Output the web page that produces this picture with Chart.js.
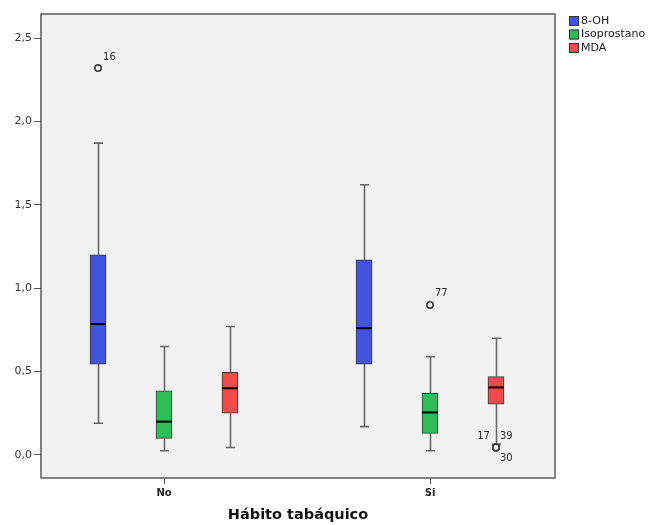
<!DOCTYPE html>
<html>
<head>
<meta charset="utf-8">
<title>Hábito tabáquico</title>
<script src="https://cdn.jsdelivr.net/npm/chart.js@4.4.1/dist/chart.umd.min.js"></script>
<style>
  html, body { margin: 0; padding: 0; background: #fff; }
  canvas { display: block; }
</style>
</head>
<body>
<canvas id="boxChart" width="649" height="525"></canvas>
<script>
var groups = ['No', 'Si'];
var seriesNames = ['8-OH', 'Isoprostano', 'MDA'];
var seriesColors = ['#4153df', '#30bd58', '#f24a4a'];

// one row per series, one value per group (No, Si)
var whiskerLow  = [[0.19, 0.17], [0.025, 0.025], [0.045, 0.065]];
var quartile1   = [[0.545, 0.545], [0.10, 0.13], [0.25, 0.305]];
var medians     = [[0.785, 0.76], [0.20, 0.255], [0.40, 0.405]];
var quartile3   = [[1.20, 1.17], [0.385, 0.37], [0.495, 0.47]];
var whiskerHigh = [[1.87, 1.62], [0.65, 0.59], [0.77, 0.70]];

// outliers: series, group, value, case number
var outlierSeries = [0, 1, 2, 2, 2];
var outlierGroups = [0, 1, 1, 1, 1];
var outlierValues = [2.32, 0.90, 0.045, 0.045, 0.045];
var outlierLabels = ['16', '77', '17', '39', '30'];

var yTicks = [0, 0.5, 1.0, 1.5, 2.0, 2.5];

(function () {

  var SPREAD = 0.248;      // distance between boxes inside a group, in x units
  var FONT = '"DejaVu Sans", sans-serif';
  var PLOT_BG = '#f2f2f2';

  function boxX(s, g) { return g + 1 + (s - 1) * SPREAD; }

  // where each case number sits relative to its circle
  var labelSpots = [
    { dx: 5, dy: -11, align: 'left' },
    { dx: 5, dy: -11, align: 'left' },
    { dx: -6, dy: -11, align: 'right' },
    { dx: 4, dy: -11, align: 'left' },
    { dx: 4, dy: 11, align: 'left' }
  ];

  var datasets = seriesNames.map(function (name, s) {
    return {
      type: 'bar',
      label: name,
      data: groups.map(function (gname, g) {
        return { x: boxX(s, g), y: [quartile1[s][g], quartile3[s][g]] };
      }),
      backgroundColor: seriesColors[s],
      borderColor: '#3a3a3a',
      borderWidth: 1,
      borderSkipped: false,
      barThickness: 16,
      grouped: false
    };
  });

  datasets.push({
    type: 'scatter',
    label: 'outliers',
    data: outlierValues.map(function (v, i) {
      return { x: boxX(outlierSeries[i], outlierGroups[i]), y: v };
    }),
    pointRadius: 3.2,
    pointBorderWidth: 1.6,
    pointBorderColor: '#3c3c3c',
    pointBackgroundColor: PLOT_BG
  });

  var plotFrame = {
    id: 'plotFrame',
    beforeDraw: function (chart) {
      var a = chart.chartArea, ctx = chart.ctx;
      ctx.save();
      ctx.fillStyle = PLOT_BG;
      ctx.fillRect(a.left, a.top, a.right - a.left, a.bottom - a.top);
      ctx.restore();
    },
    afterDraw: function (chart) {
      var a = chart.chartArea, ctx = chart.ctx, xs = chart.scales.x;
      ctx.save();
      ctx.strokeStyle = '#5a5a5a';
      ctx.lineWidth = 1.5;
      ctx.strokeRect(a.left, a.top, a.right - a.left, a.bottom - a.top);
      // category tick marks under the frame
      ctx.strokeStyle = '#555';
      ctx.lineWidth = 1;
      groups.forEach(function (g, i) {
        var px = Math.round(xs.getPixelForValue(i + 1)) + 0.5;
        ctx.beginPath();
        ctx.moveTo(px, a.bottom);
        ctx.lineTo(px, a.bottom + 6);
        ctx.stroke();
      });
      ctx.restore();
    }
  };

  var whiskers = {
    id: 'whiskers',
    beforeDatasetsDraw: function (chart) {
      var ctx = chart.ctx, y = chart.scales.y;
      ctx.save();
      ctx.strokeStyle = '#666';
      ctx.lineWidth = 1.6;
      seriesNames.forEach(function (name, s) {
        chart.getDatasetMeta(s).data.forEach(function (bar, g) {
          var x = Math.round(bar.x) + 0.5;
          var hi = y.getPixelForValue(whiskerHigh[s][g]);
          var lo = y.getPixelForValue(whiskerLow[s][g]);
          var q1 = y.getPixelForValue(quartile1[s][g]);
          var q3 = y.getPixelForValue(quartile3[s][g]);
          ctx.beginPath();
          ctx.moveTo(x, q3); ctx.lineTo(x, hi);
          ctx.moveTo(x, q1); ctx.lineTo(x, lo);
          ctx.moveTo(x - 4.5, hi); ctx.lineTo(x + 4.5, hi);
          ctx.moveTo(x - 4.5, lo); ctx.lineTo(x + 4.5, lo);
          ctx.stroke();
        });
      });
      ctx.restore();
    },
    afterDatasetsDraw: function (chart) {
      var ctx = chart.ctx, y = chart.scales.y;
      ctx.save();
      ctx.strokeStyle = '#000';
      ctx.lineWidth = 2;
      seriesNames.forEach(function (name, s) {
        chart.getDatasetMeta(s).data.forEach(function (bar, g) {
          var m = y.getPixelForValue(medians[s][g]);
          ctx.beginPath();
          ctx.moveTo(bar.x - bar.width / 2, m);
          ctx.lineTo(bar.x + bar.width / 2, m);
          ctx.stroke();
        });
      });

      // case numbers next to the outliers
      var pts = chart.getDatasetMeta(seriesNames.length).data;
      ctx.fillStyle = '#2b2b2b';
      ctx.font = '10px ' + FONT;
      ctx.textBaseline = 'middle';
      pts.forEach(function (pt, i) {
        var spot = labelSpots[i];
        ctx.textAlign = spot.align;
        ctx.fillText(outlierLabels[i], pt.x + spot.dx, pt.y + spot.dy);
      });
      ctx.restore();
    }
  };

  var sideLegend = {
    id: 'sideLegend',
    afterDraw: function (chart) {
      var ctx = chart.ctx, a = chart.chartArea;
      var x = a.right + 14, y = a.top + 7;
      ctx.save();
      ctx.font = '11px ' + FONT;
      ctx.textBaseline = 'middle';
      ctx.textAlign = 'left';
      seriesNames.forEach(function (name, s) {
        var cy = y + s * 13.5;
        ctx.fillStyle = seriesColors[s];
        ctx.fillRect(x, cy - 5, 10, 10);
        ctx.strokeStyle = '#333';
        ctx.lineWidth = 1;
        ctx.strokeRect(x + 0.5, cy - 4.5, 9, 9);
        ctx.fillStyle = '#1a1a1a';
        ctx.fillText(name, x + 12, cy);
      });
      ctx.restore();
    }
  };

  new Chart(document.getElementById('boxChart'), {
    type: 'bar',
    data: { datasets: datasets },
    options: {
      responsive: false,
      animation: false,
      layout: { padding: { top: 14, right: 94, bottom: 0, left: 0 } },
      plugins: {
        legend: { display: false },
        tooltip: { enabled: false }
      },
      scales: {
        x: {
          type: 'linear',
          offset: false,
          min: 1 - 123 / 266,
          max: 2 + 125 / 266,
          afterBuildTicks: function (scale) {
            scale.ticks = groups.map(function (g, i) { return { value: i + 1 }; });
          },
          afterFit: function (scale) { scale.height = 47; },
          grid: { display: false, offset: false, drawOnChartArea: false, tickLength: 6 },
          border: { display: false },
          ticks: {
            padding: 3,
            color: '#222',
            font: { family: FONT, size: 10, weight: 'bold' },
            callback: function (v) { return groups[Math.round(v) - 1] || ''; }
          },
          title: {
            display: true,
            text: 'Hábito tabáquico',
            color: '#111',
            font: { family: FONT, size: 14.5, weight: 'bold' },
            padding: { top: 0, bottom: 1 }
          }
        },
        y: {
          min: -0.138,
          max: 2.644,
          afterBuildTicks: function (scale) {
            scale.ticks = yTicks.map(function (v) { return { value: v }; });
          },
          afterFit: function (scale) { scale.width = 41; },
          grid: { drawOnChartArea: false, tickLength: 7, color: '#555', lineWidth: 1 },
          border: { display: false },
          ticks: {
            padding: 2,
            color: '#333',
            font: { family: FONT, size: 11 },
            callback: function (v) { return v.toFixed(1).replace('.', ','); }
          }
        }
      }
    },
    plugins: [plotFrame, whiskers, sideLegend]
  });
})();
</script>
</body>
</html>
